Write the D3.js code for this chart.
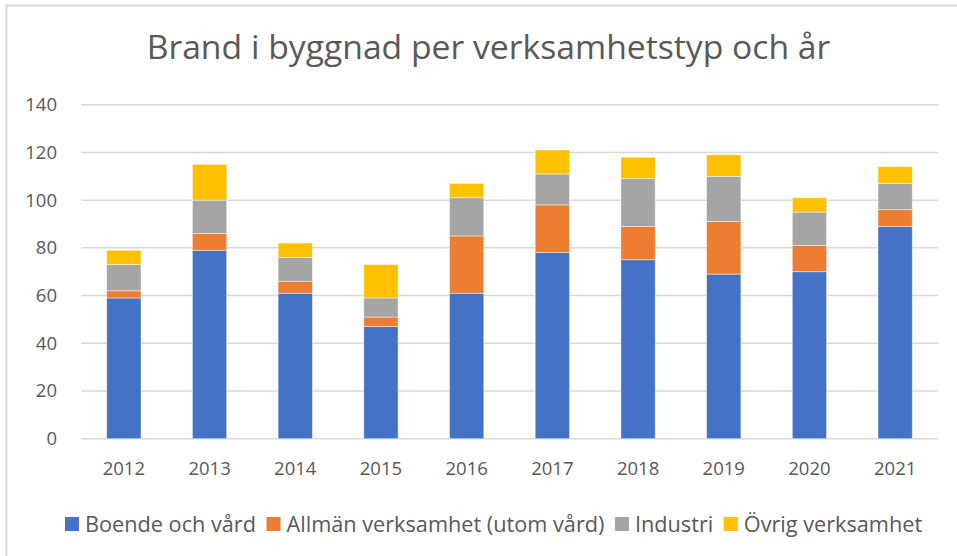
<!DOCTYPE html>
<html>
<head>
<meta charset="utf-8">
<script src="https://cdn.jsdelivr.net/npm/d3@7"></script>
<style>
html,body{margin:0;padding:0;background:#fff;}
svg{display:block;}
text{font-family:"Open Sans",sans-serif;fill:#595959;}
</style>
</head>
<body>
<svg id="chart" width="957" height="556"></svg>
<script>
const years = ["2012","2013","2014","2015","2016","2017","2018","2019","2020","2021"];
const seriesNames = ["Boende och vård","Allmän verksamhet (utom vård)","Industri","Övrig verksamhet"];
const boende   = [59, 79, 61, 47, 61, 78, 75, 69, 70, 89];
const allman   = [3, 7, 5, 4, 24, 20, 14, 22, 11, 7];
const industri = [11, 14, 10, 8, 16, 13, 20, 19, 14, 11];
const ovrig    = [6, 15, 6, 14, 6, 10, 9, 9, 6, 7];
const yTicks = [0, 20, 40, 60, 80, 100, 120, 140];
const colors = ["#4472C4","#ED7D31","#A5A5A5","#FFC000"];

(function(){
const svg = d3.select("#chart");
const W = 957, H = 556;

// outer border (top + left visible)
svg.append("line").attr("x1",6).attr("x2",W).attr("y1",5.5).attr("y2",5.5).attr("stroke","#d9d9d9").attr("stroke-width",2);
svg.append("line").attr("x1",6.5).attr("x2",6.5).attr("y1",5).attr("y2",H).attr("stroke","#d9d9d9").attr("stroke-width",2);

const pL = 81, pR = 938, pT = 104.7, pB = 438.7;
const x = d3.scaleBand().domain(years).range([pL, pR]).paddingInner(0.6).paddingOuter(0.3);
const y = d3.scaleLinear().domain([0, 140]).range([pB, pT]);

// title
svg.append("text").attr("x", 488.5).attr("y", 59)
  .attr("text-anchor","middle").attr("font-size", 33.7).text("Brand i byggnad per verksamhetstyp och år");

// gridlines
svg.append("g").selectAll("line").data(yTicks).join("line")
  .attr("x1", pL).attr("x2", pR)
  .attr("y1", d => y(d)).attr("y2", d => y(d))
  .attr("stroke", "#d9d9d9").attr("stroke-width", 1.5);

// y axis labels
const yAxis = d3.axisLeft(y).tickValues(yTicks).tickSize(0).tickPadding(0);
const gy = svg.append("g").attr("transform", `translate(57,0)`).call(yAxis);
gy.select(".domain").remove();
gy.selectAll("text").attr("font-size", 18.5).attr("font-family", '"Open Sans",sans-serif').attr("fill","#595959");

// stacked data
const table = years.map((yr, i) => ({year: yr, s0: boende[i], s1: allman[i], s2: industri[i], s3: ovrig[i]}));
const stacked = d3.stack().keys(["s0","s1","s2","s3"])(table);

svg.append("g").selectAll("g").data(stacked).join("g")
  .attr("fill", (d, i) => colors[i])
  .selectAll("rect").data(d => d).join("rect")
  .attr("x", d => x(d.data.year))
  .attr("width", x.bandwidth())
  .attr("y", d => y(d[1]))
  .attr("height", d => y(d[0]) - y(d[1]))
  .attr("stroke", "rgba(255,255,255,0.55)").attr("stroke-width", 0.8);

// x axis
const xAxis = d3.axisBottom(x).tickSize(0).tickPadding(0);
const gx = svg.append("g").attr("transform", `translate(0,${pB})`).call(xAxis);
gx.select(".domain").remove();
gx.selectAll("text").attr("font-size", 18.5).attr("font-family", '"Open Sans",sans-serif').attr("fill","#595959")
  .attr("dy", null).attr("y", 31.5).attr("dominant-baseline", "middle");

// legend
const legend = svg.append("g");
const legY = 524;
let lx = 65;
seriesNames.forEach((name, i) => {
  legend.append("rect").attr("x", lx).attr("y", legY - 7).attr("width", 14).attr("height", 14).attr("fill", colors[i]);
  const t = legend.append("text").attr("x", lx + 20).attr("y", legY).attr("dy", "0.35em")
    .attr("font-size", 21.7).text(name);
  lx += 20 + t.node().getComputedTextLength() + 10.5;
});
})();
</script>
</body>
</html>
